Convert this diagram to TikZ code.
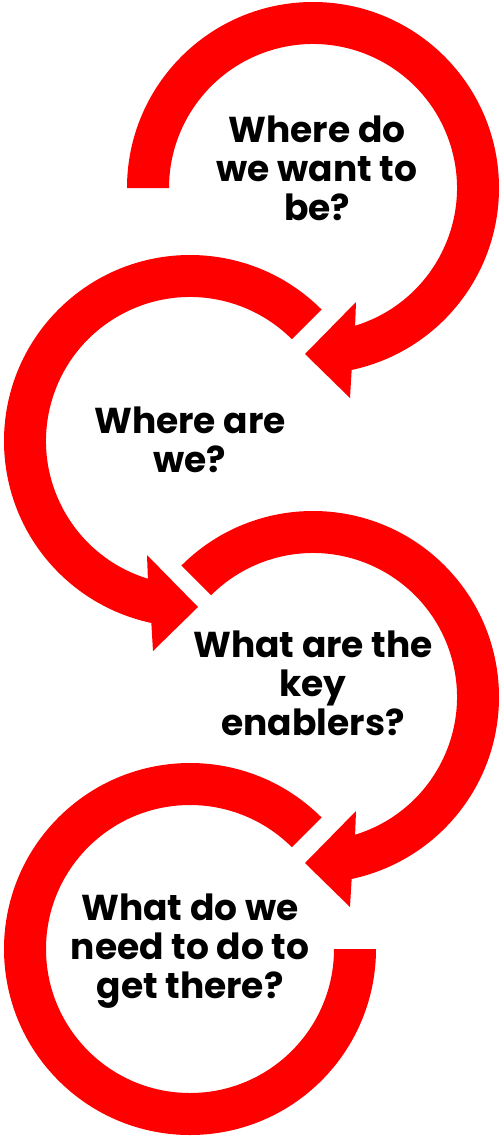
\documentclass[tikz,border=0pt]{standalone}
\usepackage{fontspec}
\setmainfont{Poppins}
\usepackage{tikz}
\usetikzlibrary{positioning}

\begin{document}
\begin{tikzpicture}[x=1pt,y=1pt,
			ring/.style={fill=red,draw=none},
			quest/.style={align=center,inner sep=0pt,
				font=\bfseries\fontsize{36}{39}\selectfont}]
		\useasboundingbox (0,0) rectangle (500,-1136);
		\coordinate (c1) at (313,-188);
		\coordinate (c2) at (190,-441);
		\coordinate (c3) at (313,-697);
		\coordinate (c4) at (190,-949);
		% three rings with heads, the middle one mirrored
		\foreach \C/\S/\M in {c1/180/1,c2/135/-1,c3/135/1}
		{\begin{scope}[shift={(\C)},xscale=\M]
			\fill[ring] (\S:186) arc[start angle=\S,end angle=-78,radius=186]
			-- (37,-210) -- (-8,-166) -- (43,-114) -- (-73:144)
			arc[start angle=-73,end angle=\S,radius=144] -- cycle;
		\end{scope}}
		\begin{scope}[shift={(c4)}]
			\fill[ring] (45:186) arc[start angle=45,end angle=360,radius=186]
			-- (0:144) arc[start angle=360,end angle=45,radius=144] -- cycle;
		\end{scope}
		\node[quest] (q1) at ([shift={(4,20)}]c1) {Where do\\we want to\\be?};
		\node[quest] (q2) at ([shift={(0,1)}]c2) {Where are\\we?};
		\node[quest] (q3) at ([shift={(0,14)}]c3) {What are the\\key\\enablers?};
		\node[quest] (q4) at ([shift={(0,-2)}]c4) {What do we\\need to do to\\get there?};
	\end{tikzpicture}
\end{document}
